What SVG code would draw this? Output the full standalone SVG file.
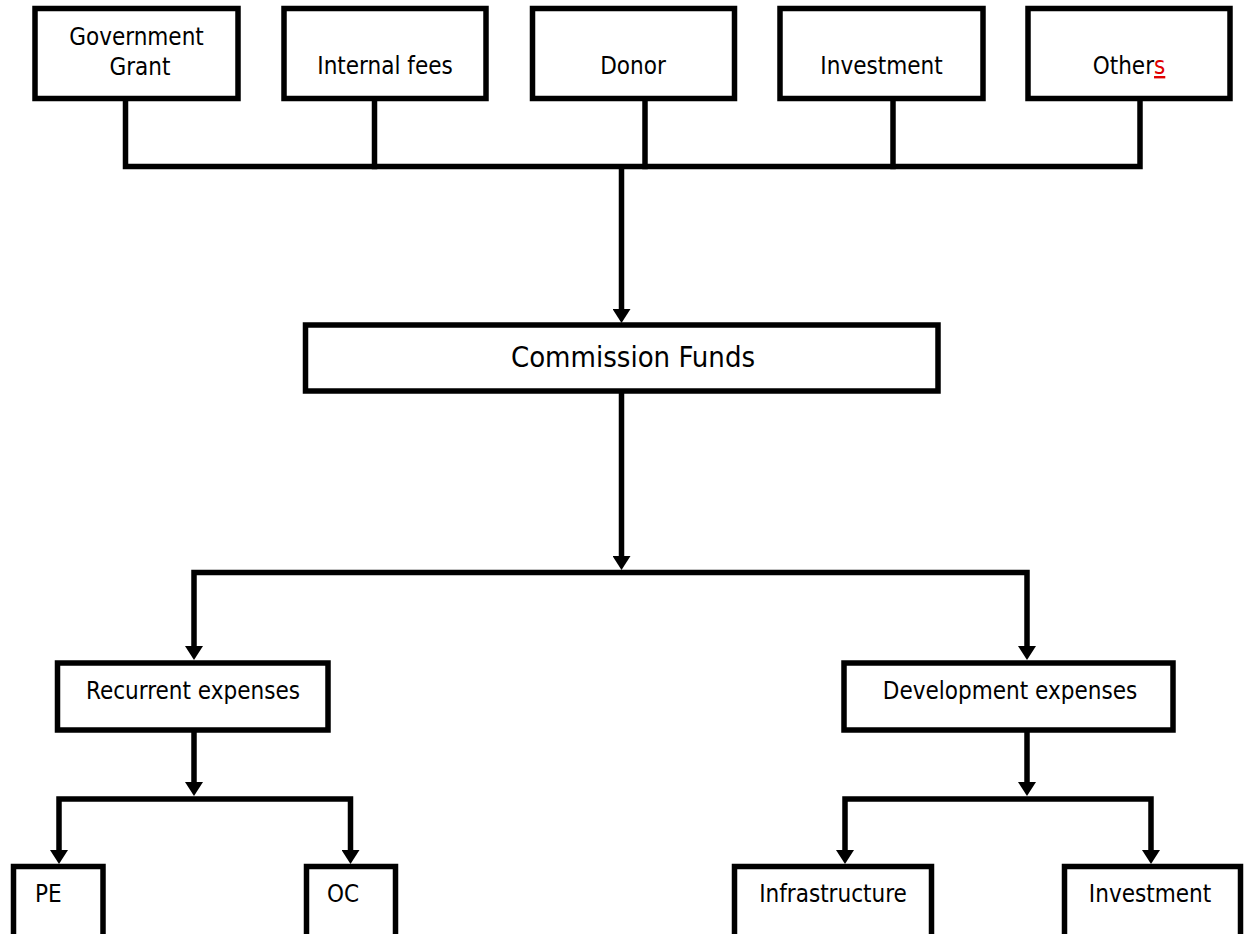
<svg xmlns="http://www.w3.org/2000/svg" width="1257" height="934" viewBox="0 0 1257 934">
<style>
.box{fill:#fff;stroke:#000;stroke-width:5.5}
.ln{fill:none;stroke:#000;stroke-width:5.5;stroke-linejoin:miter;stroke-linecap:square}
.ar{stroke-linecap:butt}
.t{font-family:"DejaVu Sans Condensed","DejaVu Sans",sans-serif;font-stretch:condensed;font-size:24px;fill:#000;text-anchor:middle}
.big{font-size:29px}
.s{text-anchor:start}
</style>
<defs>
<marker id="ah" markerUnits="userSpaceOnUse" markerWidth="14" markerHeight="18" viewBox="0 0 14 18" refX="2" refY="9" orient="auto-start-reverse">
<path d="M0,0 L14,9 L0,18 z" fill="#000"/>
</marker>
</defs>
<rect width="1257" height="934" fill="#fff"/>
<g id="connectors">
<path class="ln" d="M125.5,98.5 V166.5 H1140 V98.5"/>
<path class="ln" d="M374.5,98.5 V166.5"/>
<path class="ln" d="M645,98.5 V166.5"/>
<path class="ln" d="M893,98.5 V166.5"/>
<path class="ln ar" d="M621.5,166.5 V311" marker-end="url(#ah)"/>
<path class="ln ar" d="M621.5,391 V558" marker-end="url(#ah)"/>
<path class="ln ar" d="M194,648 V572.5 H1027 V648" marker-start="url(#ah)" marker-end="url(#ah)"/>
<path class="ln ar" d="M194,730 V784" marker-end="url(#ah)"/>
<path class="ln ar" d="M59,852 V799 H350.5 V852" marker-start="url(#ah)" marker-end="url(#ah)"/>
<path class="ln ar" d="M1027,730 V784" marker-end="url(#ah)"/>
<path class="ln ar" d="M845,852 V799 H1151 V852" marker-start="url(#ah)" marker-end="url(#ah)"/>
</g>
<g id="gov"><rect class="box" x="35" y="8.5" width="203" height="90"/><text class="t" x="136.5" y="45">Government</text><text class="t" x="140" y="75">Grant</text></g>
<g id="fees"><rect class="box" x="284" y="8.5" width="202" height="90"/><text class="t" x="385" y="74">Internal fees</text></g>
<g id="donor"><rect class="box" x="532.5" y="8.5" width="202" height="90"/><text class="t" x="633" y="74">Donor</text></g>
<g id="invest-top"><rect class="box" x="780" y="8.5" width="203" height="90"/><text class="t" x="881.5" y="74">Investment</text></g>
<g id="others"><rect class="box" x="1028" y="8.5" width="202" height="90"/><text class="t" x="1129" y="74">Other<tspan fill="#e00000" text-decoration="underline">s</tspan></text></g>
<g id="commission"><rect class="box" x="305.5" y="325" width="632.5" height="66"/><text class="t big" x="633" y="367">Commission Funds</text></g>
<g id="recurrent"><rect class="box" x="57.5" y="663" width="270.5" height="67"/><text class="t" x="193" y="699">Recurrent expenses</text></g>
<g id="development"><rect class="box" x="844" y="663" width="329" height="67"/><text class="t" x="1010" y="699">Development expenses</text></g>
<g id="pe"><rect class="box" x="13.5" y="866.5" width="89.5" height="100"/><text class="t s" x="35" y="902">PE</text></g>
<g id="oc"><rect class="box" x="306.5" y="866.5" width="89" height="100"/><text class="t s" x="327" y="902">OC</text></g>
<g id="infra"><rect class="box" x="734.5" y="866.5" width="197" height="100"/><text class="t" x="833" y="902">Infrastructure</text></g>
<g id="invest-bottom"><rect class="box" x="1064.5" y="866.5" width="176" height="100"/><text class="t" x="1150" y="902">Investment</text></g>
</svg>
